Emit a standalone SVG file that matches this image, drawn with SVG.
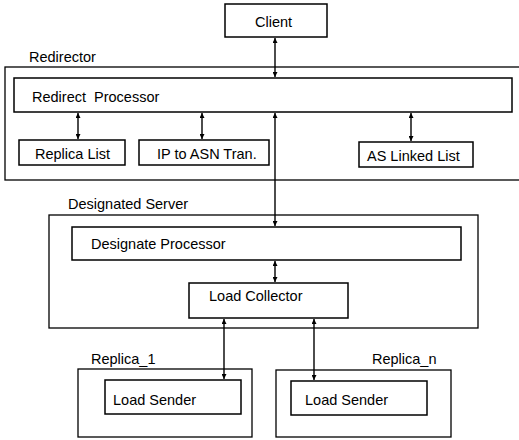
<svg xmlns="http://www.w3.org/2000/svg" width="519" height="440" viewBox="0 0 519 440">
<style>
.box{fill:#fff;stroke:#000;stroke-width:1.5}
.grp{fill:none;stroke:#000;stroke-width:1.3}
.t{font-family:"Liberation Sans",Arial,sans-serif;font-size:14.5px;fill:#000}
.c{stroke:#000;stroke-width:1.4;fill:none;marker-start:url(#a);marker-end:url(#a)}
</style>
<defs>
<marker id="a" viewBox="0 0 8 8" refX="8" refY="4" markerWidth="5" markerHeight="5" orient="auto-start-reverse" markerUnits="userSpaceOnUse">
<path d="M0,0 L8,4 L0,8 Z" fill="#000"/>
</marker>
</defs>
<rect width="519" height="440" fill="#fff"/>
<g id="redirector">
<rect class="grp" x="5" y="67" width="520" height="113"/>
<text class="t" x="29" y="62">Redirector</text>
</g>
<g id="designated-server">
<rect class="grp" x="49" y="215" width="429" height="113"/>
<text class="t" x="68" y="209">Designated Server</text>
</g>
<g id="replica1">
<rect class="grp" x="78" y="369" width="174" height="68"/>
<text class="t" x="91" y="364">Replica_1</text>
</g>
<g id="replican">
<rect class="grp" x="276" y="370" width="175" height="67"/>
<text class="t" x="372" y="364">Replica_n</text>
</g>
<g id="client">
<rect class="box" x="225" y="4" width="102" height="33"/>
<text class="t" x="255" y="27">Client</text>
</g>
<g id="redirect-processor">
<rect class="box" x="14" y="78" width="498" height="34"/>
<text class="t" x="32" y="102" xml:space="preserve">Redirect  Processor</text>
</g>
<g id="replica-list">
<rect class="box" x="19" y="140" width="106" height="25"/>
<text class="t" x="35" y="159">Replica List</text>
</g>
<g id="ip-to-asn">
<rect class="box" x="139" y="140" width="130" height="25"/>
<text class="t" x="157" y="159">IP to ASN Tran.</text>
</g>
<g id="as-linked-list">
<rect class="box" x="359" y="142" width="114" height="25"/>
<text class="t" x="367" y="161">AS Linked List</text>
</g>
<g id="designate-processor">
<rect class="box" x="72" y="227" width="389" height="33"/>
<text class="t" x="91" y="249">Designate Processor</text>
</g>
<g id="load-collector">
<rect class="box" x="189" y="283" width="159" height="35"/>
<text class="t" x="209" y="301">Load Collector</text>
</g>
<g id="load-sender-1">
<rect class="box" x="105" y="380" width="136" height="34"/>
<text class="t" x="113" y="405">Load Sender</text>
</g>
<g id="load-sender-n">
<rect class="box" x="291" y="381" width="136" height="34"/>
<text class="t" x="305" y="405">Load Sender</text>
</g>
<g id="connectors">
<line class="c" x1="275" y1="38" x2="275" y2="77"/>
<line class="c" x1="78" y1="113" x2="78" y2="139"/>
<line class="c" x1="202" y1="113" x2="202" y2="139"/>
<line class="c" x1="411" y1="113" x2="411" y2="141"/>
<line class="c" x1="275" y1="113" x2="275" y2="226"/>
<line class="c" x1="275" y1="261" x2="275" y2="282"/>
<line class="c" x1="224" y1="319" x2="224" y2="379"/>
<line class="c" x1="314" y1="319" x2="314" y2="380"/>
</g>
</svg>
